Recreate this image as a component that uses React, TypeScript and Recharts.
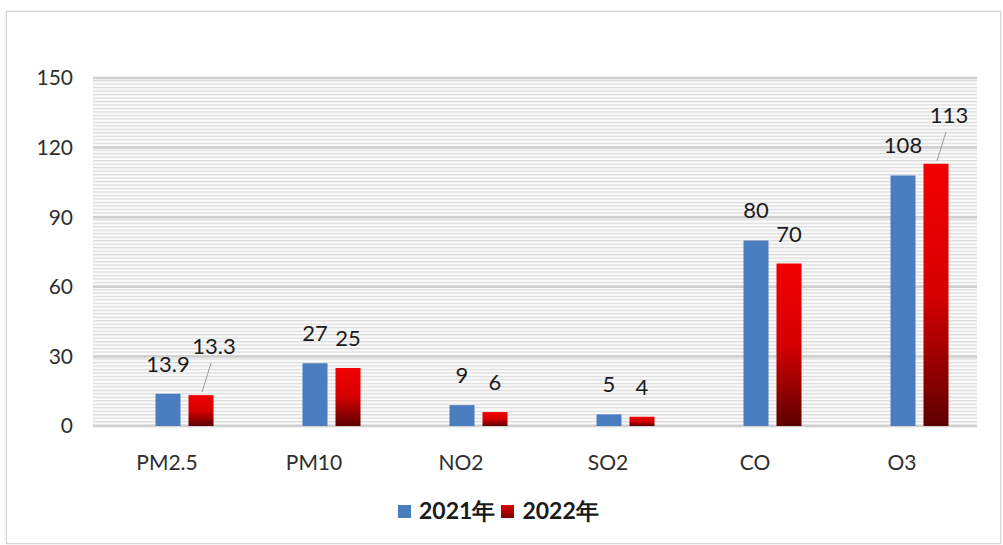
import React from 'react';
import { BarChart, Bar, XAxis, YAxis, CartesianGrid, LabelList, Legend } from 'recharts';

const categories = ['PM2.5', 'PM10', 'NO2', 'SO2', 'CO', 'O3'];
const values2021 = [13.9, 27, 9, 5, 80, 108];
const values2022 = [13.3, 25, 6, 4, 70, 113];
const yTicks = [0, 30, 60, 90, 120, 150];
const seriesNames = ['2021年', '2022年'];
const leaderLabelCategories = ['PM2.5', 'O3'];

const data = categories.map((c, i) => ({ name: c, y2021: values2021[i], y2022: values2022[i] }));

const FONT = 'Lato, "Liberation Sans", sans-serif';
const BLUE = '#4A7DC0';

const makeLabel = (withLeader: boolean) => (props: any) => {
  const vb = props.viewBox || {};
  const x = props.x ?? vb.x;
  const y = props.y ?? vb.y;
  const width = props.width ?? vb.width;
  const index = props.index;
  const value = props.value;
  const cx = x + width / 2;
  const lead = withLeader && leaderLabelCategories.includes(categories[index]);
  if (lead) {
    return (
      <g>
        <line x1={cx + 1} y1={y - 3} x2={cx + 10} y2={y - 32} stroke="#9a9a9a" strokeWidth={1} />
        <text x={cx + 13} y={y - 41} textAnchor="middle" fontSize={22} fill="#1a1a1a" fontFamily={FONT}>
          {value}
        </text>
      </g>
    );
  }
  return (
    <text x={cx} y={y - 22} textAnchor="middle" fontSize={22} fill="#1a1a1a" fontFamily={FONT}>
      {value}
    </text>
  );
};

const XTick = (props: any) => {
  const { x, y, payload } = props;
  return (
    <text x={x - 17} y={y + 42} textAnchor="middle" fontSize={21} fill="#2e2e2e" fontFamily={FONT}>
      {payload.value}
    </text>
  );
};

const LegendContent = () => (
  <div style={{ display: 'flex', alignItems: 'center', fontFamily: FONT, fontWeight: 700, fontSize: 23, color: '#1a1a1a', whiteSpace: 'nowrap' }}>
    <span style={{ width: 13, height: 13, background: BLUE, display: 'inline-block', marginRight: 8 }} />
    <span style={{ marginRight: 6 }}>{seriesNames[0]}</span>
    <span style={{ width: 13, height: 13, background: 'linear-gradient(#e00000, #7a0000)', display: 'inline-block', marginRight: 8 }} />
    <span>{seriesNames[1]}</span>
  </div>
);

export default function App() {
  return (
    <div style={{ position: 'absolute', left: 0, top: 0, width: 1003, height: 545, background: '#fff' }}>
      <div style={{ position: 'absolute', left: 6, top: 11, width: 993, height: 531, border: '1px solid #d4d4d4', boxShadow: '0 0 2px #ddd' }} />
      <div style={{ position: 'absolute', left: 0, top: 0 }}>
        <BarChart
          width={1003}
          height={545}
          data={data}
          margin={{ top: 78, right: 26, left: 0, bottom: 89 }}
          barSize={25}
          barGap={8}
        >
          <defs>
            <pattern id="stripes" patternUnits="userSpaceOnUse" width={6} height={3.48}>
              <rect x={0} y={0} width={6} height={3.48} fill="#fbfbfb" />
              <rect x={0} y={0} width={6} height={1.2} fill="#dadada" />
            </pattern>
            <linearGradient id="redGrad" x1="0" y1="0" x2="0" y2="1">
              <stop offset="0%" stopColor="#f20000" />
              <stop offset="50%" stopColor="#d60000" />
              <stop offset="100%" stopColor="#5e0000" />
            </linearGradient>
          </defs>
          <CartesianGrid vertical={false} fill="url(#stripes)" stroke="#d0d0d0" strokeWidth={2.5} fillOpacity={1} />
          <XAxis
            dataKey="name"
            axisLine={false}
            tickLine={false}
            tickSize={0}
            height={30}
            padding={{ left: 17.5, right: -15.5 }}
            tick={<XTick />}
            interval={0}
          />
          <YAxis
            width={93}
            domain={[0, 150]}
            ticks={yTicks}
            axisLine={false}
            tickLine={false}
            tickSize={0}
            tickMargin={20}
            tick={{ fontSize: 21, fill: '#2e2e2e', fontFamily: FONT }}
          />
          <Legend
            verticalAlign="middle"
            align="center"
            layout="horizontal"
            content={<LegendContent />}
            wrapperStyle={{ top: 496, left: 398, width: 240 }}
          />
          <Bar dataKey="y2021" name={seriesNames[0]} fill={BLUE} isAnimationActive={false}>
            <LabelList dataKey="y2021" content={makeLabel(false)} />
          </Bar>
          <Bar dataKey="y2022" name={seriesNames[1]} fill="url(#redGrad)" isAnimationActive={false}>
            <LabelList dataKey="y2022" content={makeLabel(true)} />
          </Bar>
        </BarChart>
      </div>
    </div>
  );
}
